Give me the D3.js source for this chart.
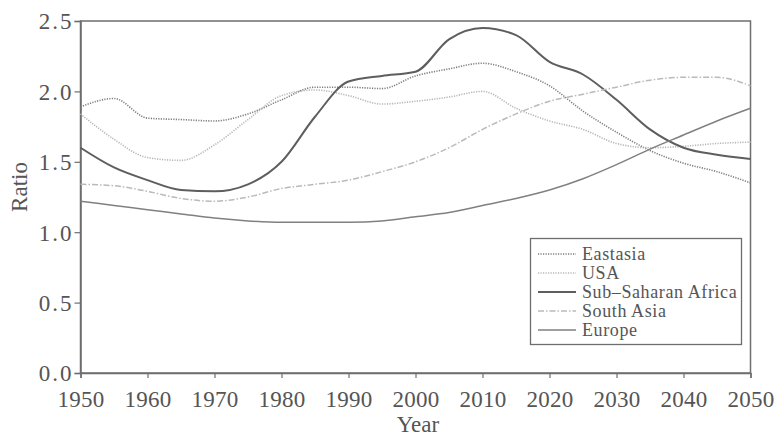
<!DOCTYPE html>
<html>
<head>
<meta charset="utf-8">
<script src="https://cdn.jsdelivr.net/npm/d3@7"></script>
<style>
  html, body { margin: 0; padding: 0; background: #fff; }
  svg { display: block; font-family: "Liberation Serif", "DejaVu Serif", serif; }
</style>
</head>
<body>
<svg id="chart" width="778" height="443"></svg>
<script>
// Ratio by region, 1950-2050, five-year steps
const years = d3.range(1950, 2051, 5);
const eastasia = [1.89, 1.95, 1.81, 1.80, 1.79, 1.84, 1.94, 2.03, 2.03, 2.02, 2.11, 2.16, 2.20, 2.14, 2.04, 1.86, 1.71, 1.58, 1.49, 1.43, 1.35];
const usa      = [1.84, 1.66, 1.53, 1.51, 1.62, 1.80, 1.97, 2.01, 1.97, 1.91, 1.93, 1.96, 2.00, 1.88, 1.79, 1.73, 1.63, 1.60, 1.61, 1.63, 1.64];
const ssafrica = [1.60, 1.46, 1.37, 1.30, 1.29, 1.34, 1.50, 1.82, 2.07, 2.11, 2.14, 2.37, 2.45, 2.40, 2.21, 2.12, 1.94, 1.73, 1.60, 1.55, 1.52];
const southAsia= [1.34, 1.33, 1.29, 1.24, 1.22, 1.25, 1.31, 1.34, 1.37, 1.43, 1.50, 1.60, 1.73, 1.84, 1.93, 1.98, 2.03, 2.08, 2.10, 2.10, 2.04];
const europe   = [1.22, 1.19, 1.16, 1.13, 1.10, 1.08, 1.07, 1.07, 1.07, 1.08, 1.11, 1.14, 1.19, 1.24, 1.30, 1.38, 1.48, 1.59, 1.69, 1.79, 1.88];

const xTicks = d3.range(1950, 2051, 10);
const yTicks = [0, 0.5, 1.0, 1.5, 2.0, 2.5];

const seriesNames = ["Eastasia", "USA", "Sub–Saharan Africa", "South Asia", "Europe"];
const seriesValues = [eastasia, usa, ssafrica, southAsia, europe];
const seriesStyle = [
  { stroke: "#7e7e7e", width: 1.6, dash: "1.2,1.3" },
  { stroke: "#b6b6b6", width: 1.6, dash: "1.2,1.3" },
  { stroke: "#5e5e5e", width: 2.0, dash: null },
  { stroke: "#bababa", width: 1.5, dash: "6,2,1.5,2" },
  { stroke: "#808080", width: 1.5, dash: null }
];

const svg = d3.select("#chart");
const plotL = 80.5, plotR = 750.5, plotT = 21, plotB = 373;

const x = d3.scaleLinear().domain([1950, 2050]).range([plotL, plotR]);
const y = d3.scaleLinear().domain([0, 2.5]).range([plotB, plotT]);

const axisColor = "#6e6e6e";
const textColor = "#555";

// plot frame
svg.append("rect")
  .attr("x", plotL).attr("y", plotT)
  .attr("width", plotR - plotL).attr("height", plotB - plotT)
  .attr("fill", "none").attr("stroke", axisColor).attr("stroke-width", 1.5);

// axes
const xAxis = svg.append("g")
  .attr("transform", `translate(0,${plotB})`)
  .call(d3.axisBottom(x).tickValues(xTicks).tickFormat(d3.format("d")).tickSize(5).tickPadding(13));
const yAxis = svg.append("g")
  .attr("transform", `translate(${plotL},0)`)
  .call(d3.axisLeft(y).tickValues(yTicks).tickFormat(d3.format(".1f")).tickSize(6).tickPadding(1));

[xAxis, yAxis].forEach(g => {
  g.select(".domain").attr("stroke", axisColor).attr("stroke-width", 1.5);
  g.selectAll(".tick line").attr("stroke", axisColor).attr("stroke-width", 1.2);
  g.selectAll(".tick text")
    .attr("fill", textColor)
    .style("font-family", "'Liberation Serif', serif")
    .style("font-size", "23px");
});
yAxis.selectAll(".tick text").style("letter-spacing", "2px").attr("dy", "0.34em");
xAxis.selectAll(".tick text").style("letter-spacing", "0.2px");

// axis titles
svg.append("text")
  .attr("x", 418).attr("y", 432)
  .attr("text-anchor", "middle")
  .attr("fill", textColor)
  .style("font-size", "23px")
  .text("Year");
svg.append("text")
  .attr("transform", "translate(27,187) rotate(-90)")
  .attr("text-anchor", "middle")
  .attr("fill", textColor)
  .style("font-size", "23px")
  .text("Ratio");

// series lines
const line = d3.line()
  .x((d, i) => x(years[i]))
  .y(d => y(d))
  .curve(d3.curveMonotoneX);

seriesValues.forEach((vals, k) => {
  const st = seriesStyle[k];
  svg.append("path")
    .datum(vals)
    .attr("d", line)
    .attr("fill", "none")
    .attr("stroke", st.stroke)
    .attr("stroke-width", st.width)
    .attr("stroke-dasharray", st.dash);
});

// legend
const lg = svg.append("g");
lg.append("rect")
  .attr("x", 530.5).attr("y", 238.5)
  .attr("width", 211).attr("height", 106)
  .attr("fill", "#fff").attr("stroke", axisColor).attr("stroke-width", 1.3);
seriesNames.forEach((name, k) => {
  const st = seriesStyle[k];
  const cy = 254 + k * 19;
  lg.append("line")
    .attr("x1", 538).attr("x2", 576)
    .attr("y1", cy).attr("y2", cy)
    .attr("stroke", st.stroke)
    .attr("stroke-width", st.width)
    .attr("stroke-dasharray", st.dash);
  lg.append("text")
    .attr("x", 582).attr("y", cy)
    .attr("dy", "0.35em")
    .attr("fill", textColor)
    .style("font-size", "18px")
    .style("letter-spacing", "0.6px")
    .text(name);
});
</script>
</body>
</html>
